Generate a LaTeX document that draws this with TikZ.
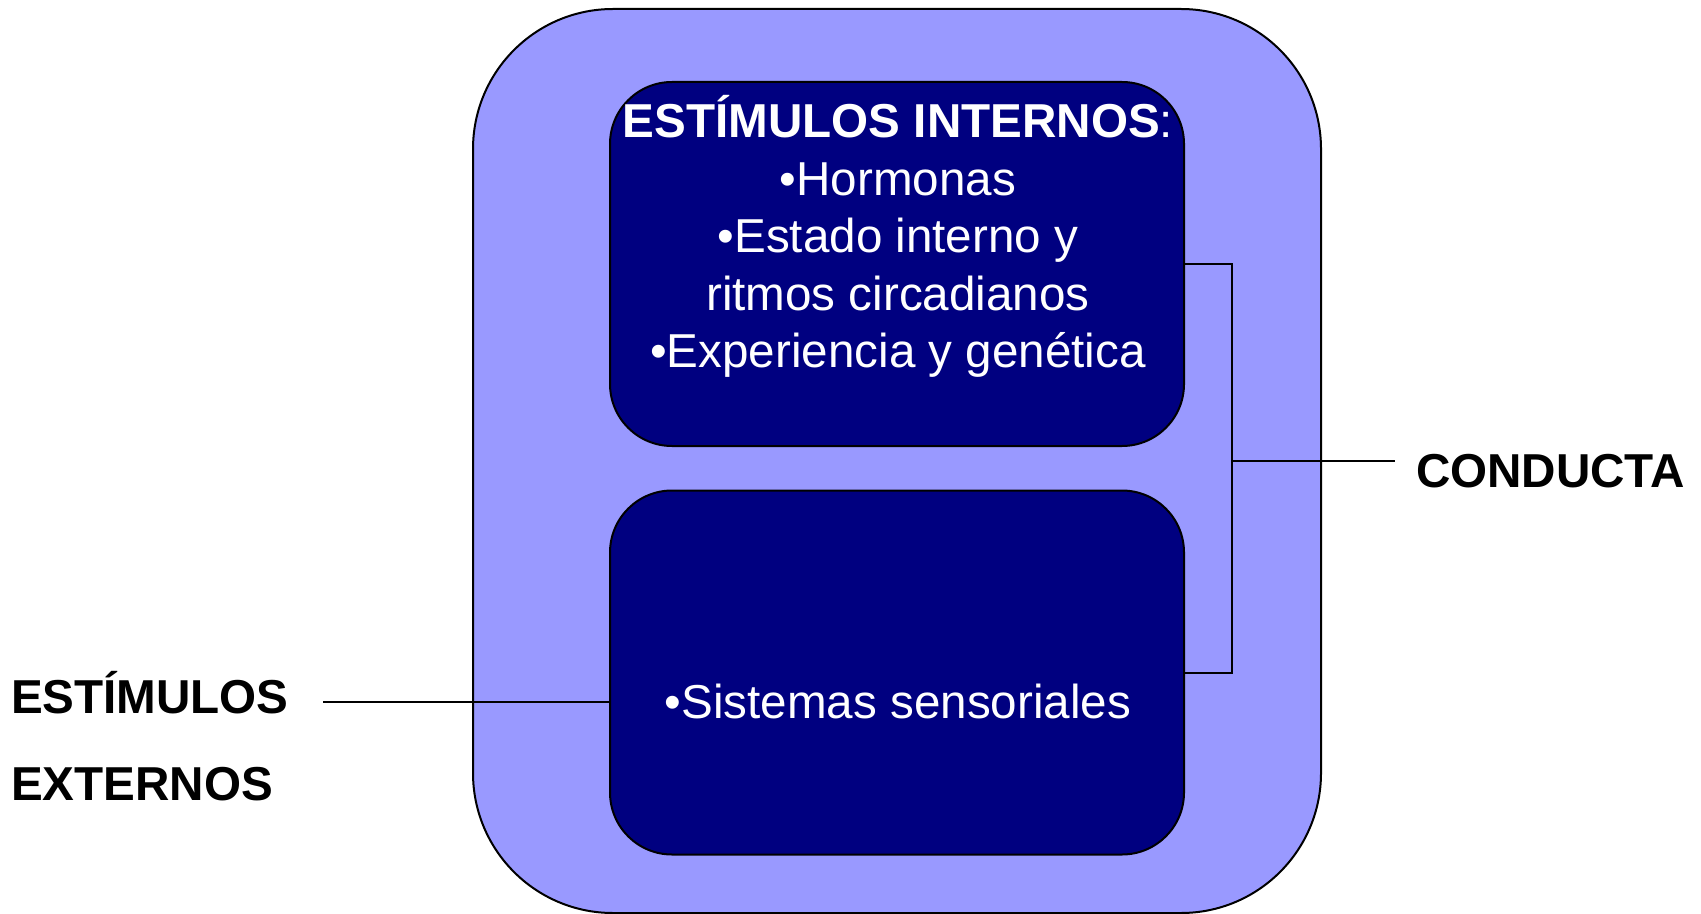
\documentclass[tikz,border=0pt]{standalone}
\usepackage{fontspec}
\setmainfont{Liberation Sans}
\usetikzlibrary{positioning}

\definecolor{lila}{HTML}{9999FF}
\definecolor{marino}{HTML}{000080}

\begin{document}
\begin{tikzpicture}[x=0.5pt,y=-0.5pt,line width=1pt,
  font=\fontsize{23.8}{28.75}\selectfont]
  \tikzstyle{every node}=[inner sep=0pt,outer sep=0pt]
  \tikzstyle{outerbox}=[draw=black,fill=lila,rounded corners=70pt,
    minimum width=424pt,minimum height=452pt]
  \tikzstyle{innerbox}=[draw=black,fill=marino,rounded corners=31pt,
    minimum width=287pt,minimum height=182pt]
  \tikzstyle{boxtext}=[text=white,align=center]
  \tikzstyle{label}=[text=black,font=\fontsize{23.8}{43.5}\selectfont\bfseries,align=left]

  \useasboundingbox (0,0) rectangle (1701,914);

  \node[outerbox] (cuerpo) at (897,461) {};
  \node[innerbox] (internos) at (897,264) {};
  \node[innerbox] (sensorial) at (897,672.5) {};

  % base = baseline of the last line
  \node[boxtext,anchor=base] (intxt) at (898,368)
    {\textbf{ESTÍMULOS INTERNOS}:\\ •Hormonas\\ •Estado interno y\\
     ritmos circadianos\\ •Experiencia y genética};
  \node[boxtext,anchor=base] (senstxt) at (898,718) {•Sistemas sensoriales};

  \node[label,anchor=base west] (externos) at (11,800) {ESTÍMULOS\\EXTERNOS};
  \node[label,anchor=base west] (conducta) at (1416,487) {CONDUCTA};

  \coordinate (junta) at (1232,461);
  \coordinate (salida) at (1395,461);
  \coordinate (entrada) at (323,702);

  \draw (internos.east) -| (junta) |- (sensorial.east);
  \draw (junta) -- (salida);
  \draw (entrada) -- (entrada -| sensorial.west);
\end{tikzpicture}
\end{document}
